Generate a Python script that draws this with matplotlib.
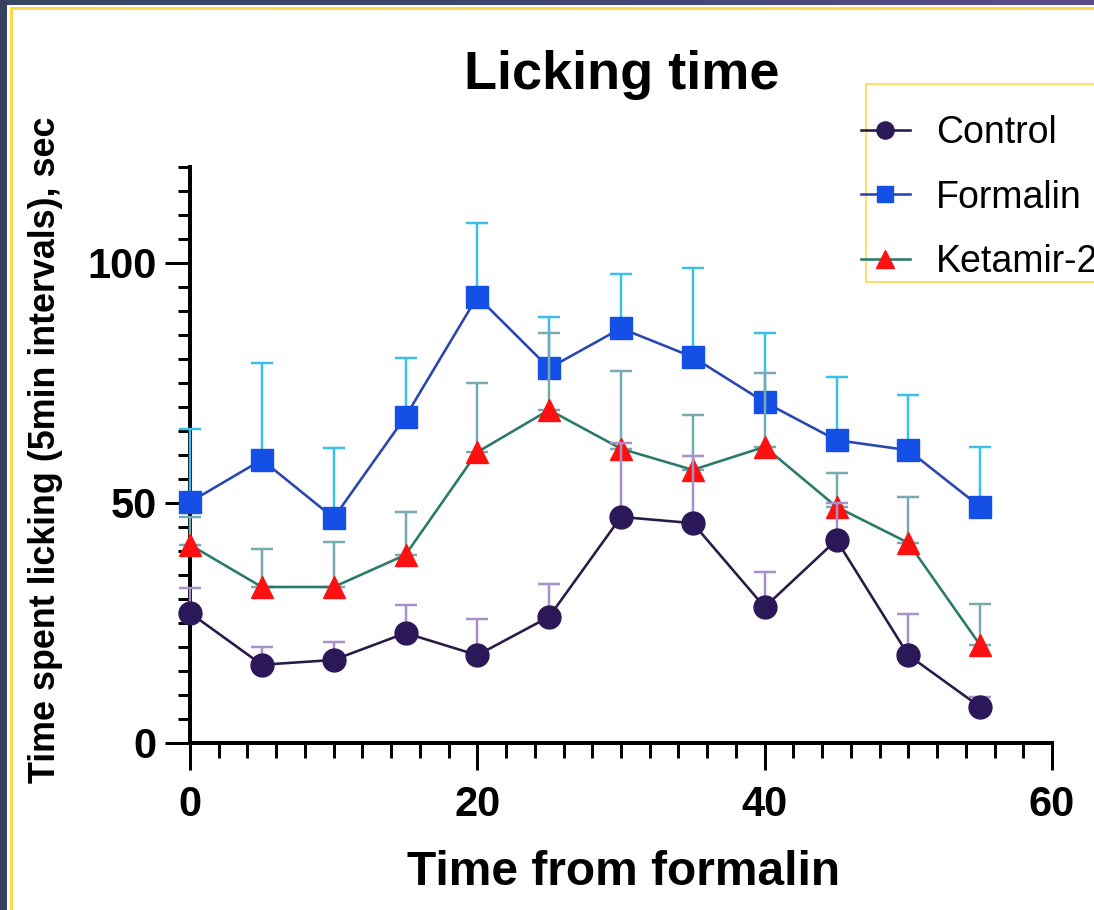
import numpy as np
import matplotlib
matplotlib.use("Agg")
import matplotlib.pyplot as plt
from matplotlib.patches import Rectangle
from matplotlib.ticker import MultipleLocator, FixedLocator
from matplotlib.colors import LinearSegmentedColormap

# ---------------- data ----------------
time_min = [0, 5, 10, 15, 20, 25, 30, 35, 40, 45, 50, 55]
series_names = ["Control", "Formalin", "Ketamir-2"]

control_mean = [27.1, 16.3, 17.3, 22.9, 18.3, 26.3, 47.1, 45.8, 28.3, 42.3, 18.3, 7.5]
control_sem = [5.2, 3.7, 3.7, 5.9, 7.5, 6.8, 15.4, 14.0, 7.3, 7.7, 8.6, 2.1]

formalin_mean = [50.2, 59.0, 46.9, 68.0, 93.0, 78.1, 86.4, 80.4, 71.0, 63.1, 61.0, 49.2]
formalin_sem = [15.2, 20.2, 14.6, 12.2, 15.3, 10.7, 11.3, 18.6, 14.4, 13.2, 11.5, 12.5]

ketamir_mean = [41.3, 32.5, 32.5, 39.2, 60.6, 69.4, 61.3, 56.9, 61.7, 49.2, 41.7, 20.4]
ketamir_sem = [5.7, 7.9, 9.4, 8.9, 14.4, 16.0, 16.2, 11.4, 15.4, 7.0, 9.5, 8.6]

x_major_ticks = [0, 20, 40, 60]
y_major_ticks = [0, 50, 100]

title_text = "Licking time"
xlabel_text = "Time from formalin"
ylabel_text = "Time spent licking (5min intervals), sec"

# ---------------- styling ----------------
W, H = 1094, 910
plt.rcParams['font.family'] = ['Liberation Sans', 'DejaVu Sans']
PX = 0.72  # points per pixel at dpi 100

fig = plt.figure(figsize=(W / 100, H / 100), dpi=100, facecolor="white")

# frame: dark strips and yellow line
fig.patches.append(Rectangle((0, 0), 7 / W, 1, transform=fig.transFigure,
                             facecolor="#34405c", edgecolor="none", zorder=0))
grad_ax = fig.add_axes([0, 1 - 5 / H, 1, 5 / H])
grad = np.linspace(0, 1, 256).reshape(1, -1)
cmap = LinearSegmentedColormap.from_list("g", ["#384662", "#3e4670", "#5c4c8c"])
grad_ax.imshow(grad, aspect="auto", cmap=cmap)
grad_ax.set_axis_off()
fig.lines.append(plt.Line2D([11 / W, 11 / W], [0, 1 - 7.5 / H], transform=fig.transFigure,
                            color="#ffd84a", lw=3 * PX))
fig.lines.append(plt.Line2D([11 / W, 1], [1 - 7.5 / H, 1 - 7.5 / H], transform=fig.transFigure,
                            color="#ffd84a", lw=3 * PX))

ax_left, ax_right = 190 / W, 1052 / W
ax_bottom, ax_top = 1 - 743 / H, 1 - 167 / H
ax = fig.add_axes([ax_left, ax_bottom, ax_right - ax_left, ax_top - ax_bottom])

styles = [
    dict(mean=formalin_mean, sem=formalin_sem, name=series_names[1], marker="s", ms=16,
         mfc="#1450e6", line="#2a46b0", err="#3cc0e8", z=3),
    dict(mean=ketamir_mean, sem=ketamir_sem, name=series_names[2], marker="^", ms=16.5,
         mfc="#ff1010", line="#2a7a6a", err="#78aab4", z=4),
    dict(mean=control_mean, sem=control_sem, name=series_names[0], marker="o", ms=16.5,
         mfc="#2a1858", line="#2a1a4a", err="#a890c8", z=5),
]

handles = {}
for s in styles:
    m = np.array(s["mean"])
    e = np.array(s["sem"])
    eb = ax.errorbar(time_min, m, yerr=[np.zeros_like(e), e], fmt="none",
                     ecolor=s["err"], elinewidth=2.5 * PX, capsize=8, capthick=2.5 * PX,
                     zorder=s["z"])
    for art in eb.lines[1] + eb.lines[2]:
        art.set_clip_on(False)
    (ln,) = ax.plot(time_min, m, color=s["line"], lw=2.6 * PX, marker=s["marker"],
                    ms=s["ms"], mfc=s["mfc"], mec=s["mfc"], label=s["name"],
                    zorder=s["z"] + 0.5, clip_on=False)
    handles[s["name"]] = ln

ax.set_xlim(0, 60)
ax.set_ylim(0, 120)
for sp in ["top", "right"]:
    ax.spines[sp].set_visible(False)
for sp in ["left", "bottom"]:
    ax.spines[sp].set_linewidth(4 * PX)
    ax.spines[sp].set_zorder(2)

ax.xaxis.set_major_locator(FixedLocator(x_major_ticks))
ax.xaxis.set_minor_locator(MultipleLocator(2))
ax.yaxis.set_major_locator(FixedLocator(y_major_ticks))
ax.yaxis.set_minor_locator(MultipleLocator(5))
ax.tick_params(axis="x", which="major", length=27 * PX, width=3 * PX, pad=11,
               labelsize=30)
ax.tick_params(axis="x", which="minor", length=15 * PX, width=3 * PX)
ax.tick_params(axis="y", which="major", length=25 * PX, width=3 * PX, pad=6,
               labelsize=30)
ax.tick_params(axis="y", which="minor", length=12 * PX, width=3 * PX)
for lab in ax.get_xticklabels() + ax.get_yticklabels():
    lab.set_fontweight("bold")

fig.text(622 / W, 1 - 89 / H, title_text, ha="center", va="baseline",
         fontsize=39, fontweight="bold")
fig.text(624 / W, 1 - 885 / H, xlabel_text, ha="center", va="baseline",
         fontsize=34.5, fontweight="bold")
fig.text(55 / W, 1 - 450 / H, ylabel_text, ha="center", va="baseline",
         rotation=90, rotation_mode="anchor", fontsize=25.8, fontweight="bold")

# legend box
fig.patches.append(Rectangle((866 / W, 1 - 282 / H), 300 / W, 198 / H,
                             transform=fig.transFigure, facecolor="white",
                             edgecolor="#ffd84a", lw=1.6 * PX, zorder=1))
leg = fig.legend([handles[n] for n in series_names], series_names,
                 loc="upper left", bbox_to_anchor=(861 / W, 1 - 115 / H),
                 frameon=False, fontsize=27, borderpad=0, borderaxespad=0,
                 handlelength=1.3, handletextpad=0.7, labelspacing=0.76,
                 markerscale=0.75)
leg.set_zorder(6)

fig.savefig("out.png", dpi=100, facecolor=fig.get_facecolor())
